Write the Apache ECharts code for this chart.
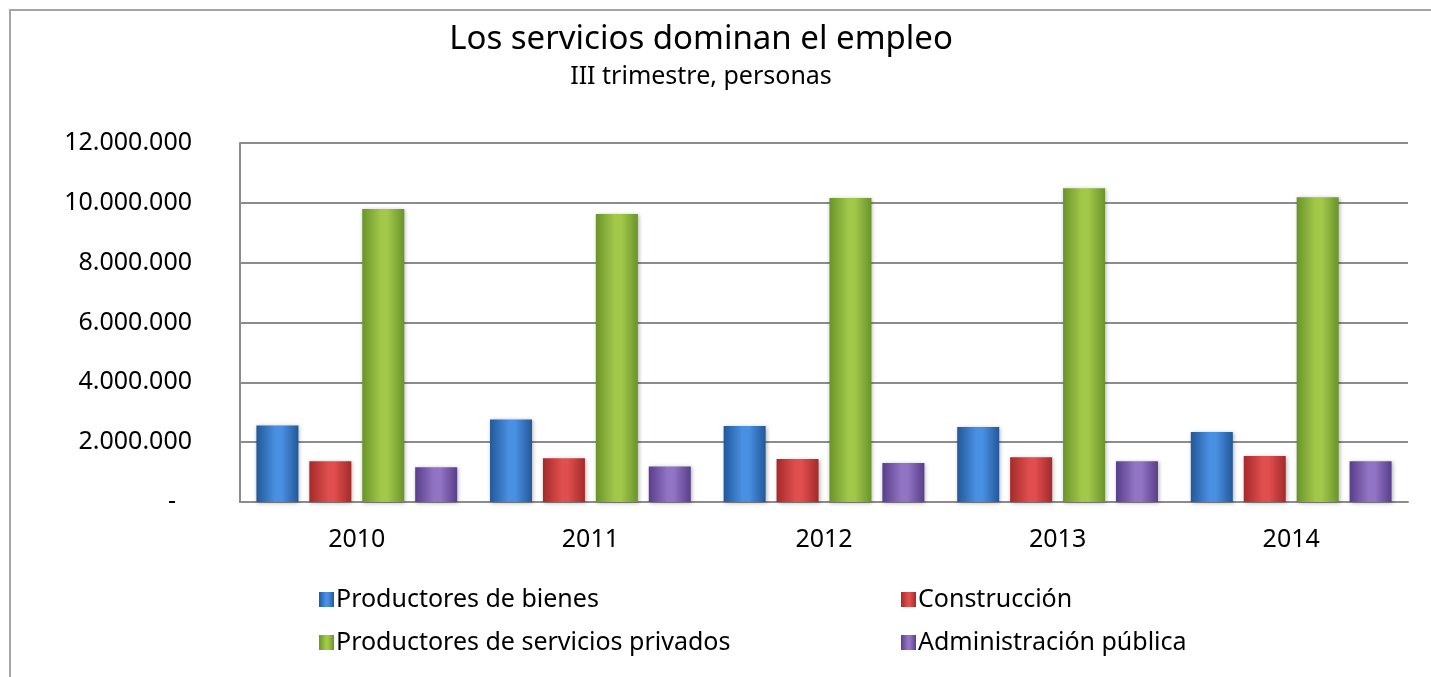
<!DOCTYPE html>
<html>
<head>
<meta charset="utf-8">
<script src="https://cdn.jsdelivr.net/npm/echarts@6/dist/echarts.min.js"></script>
<style>
  html, body { margin: 0; padding: 0; background: #fff; }
  #chart { width: 1431px; height: 677px; }
</style>
</head>
<body>
<div id="chart"></div>
<script>
// años (categorías)
const years = ["2010", "2011", "2012", "2013", "2014"];

// personas empleadas, III trimestre
const productoresBienes = [2560000, 2760000, 2540000, 2510000, 2340000];
const construccion = [1360000, 1460000, 1440000, 1500000, 1540000];
const serviciosPrivados = [9790000, 9630000, 10160000, 10490000, 10190000];
const administracionPublica = [1160000, 1190000, 1300000, 1360000, 1360000];

const seriesNames = [
  "Productores de bienes",
  "Construcción",
  "Productores de servicios privados",
  "Administración pública",
];

// colores: borde, centro
const colors = [
  ["#22589a", "#4a90e2"],
  ["#a52a2a", "#e04e4e"],
  ["#6a942a", "#a2c84a"],
  ["#583f8a", "#9274c4"],
];

const fontFamily = "'Noto Sans', 'Open Sans', sans-serif";

function barColor(c) {
  return new echarts.graphic.LinearGradient(0, 0, 1, 0, [
    { offset: 0, color: c[0] },
    { offset: 0.45, color: c[1] },
    { offset: 0.6, color: c[1] },
    { offset: 1, color: c[0] },
  ]);
}

const chart = echarts.init(document.getElementById("chart"));

const dataList = [productoresBienes, construccion, serviciosPrivados, administracionPublica];

// leyenda en dos columnas y dos filas
const legendPos = [
  { left: 314, top: 582 },
  { left: 896, top: 582 },
  { left: 314, top: 625 },
  { left: 896, top: 625 },
];

const option = {
  backgroundColor: "#fff",
  animation: false,
  title: {
    text: "Los servicios dominan el empleo",
    subtext: "III trimestre, personas",
    left: 696,
    top: 18,
    textAlign: "center",
    itemGap: 8,
    textStyle: { fontFamily, fontSize: 33, fontWeight: "normal", color: "#000" },
    subtextStyle: { fontFamily, fontSize: 25, color: "#000" },
  },
  legend: legendPos.map((p, i) => ({
    left: p.left,
    top: p.top,
    data: [seriesNames[i]],
    itemWidth: 15,
    itemHeight: 15,
    itemGap: 4,
    icon: "rect",
    textStyle: { fontFamily, fontSize: 25, color: "#000", padding: [0, 0, 0, -3] },
  })),
  grid: { left: 240, right: 23, top: 143, bottom: 175 },
  xAxis: {
    type: "category",
    data: years,
    axisLine: { lineStyle: { color: "#8c8c8c", width: 2 } },
    axisTick: { show: false },
    axisLabel: { fontFamily, fontSize: 25, color: "#000", margin: 25 },
  },
  yAxis: {
    type: "value",
    min: 0,
    max: 12000000,
    interval: 2000000,
    axisLine: { show: true, lineStyle: { color: "#8c8c8c", width: 2 } },
    axisTick: { show: false },
    splitLine: { lineStyle: { color: "#8c8c8c", width: 2 } },
    axisLabel: {
      fontFamily,
      fontSize: 25,
      color: "#000",
      margin: 48,
      formatter: (v) => {
        if (v === 0) return "{d|-}";
        return v.toString().replace(/\B(?=(\d{3})+(?!\d))/g, ".");
      },
      rich: { d: { fontFamily, fontSize: 25, color: "#000", padding: [0, 16, 0, 0] } },
    },
  },
  graphic: [
    {
      type: "rect",
      shape: { x: 10, y: 10, width: 1500, height: 800 },
      style: { fill: "none", stroke: "#a6a6a6", lineWidth: 2 },
      silent: true,
    },
  ],
  series: dataList.map((d, i) => ({
    name: seriesNames[i],
    type: "bar",
    data: d,
    barWidth: 42,
    barGap: "26%",
    itemStyle: {
      color: barColor(colors[i]),
      shadowColor: "rgba(0,0,0,0.3)",
      shadowBlur: 4,
      shadowOffsetX: 1,
      shadowOffsetY: 1,
    },
  })),
};

chart.setOption(option);
</script>
</body>
</html>
